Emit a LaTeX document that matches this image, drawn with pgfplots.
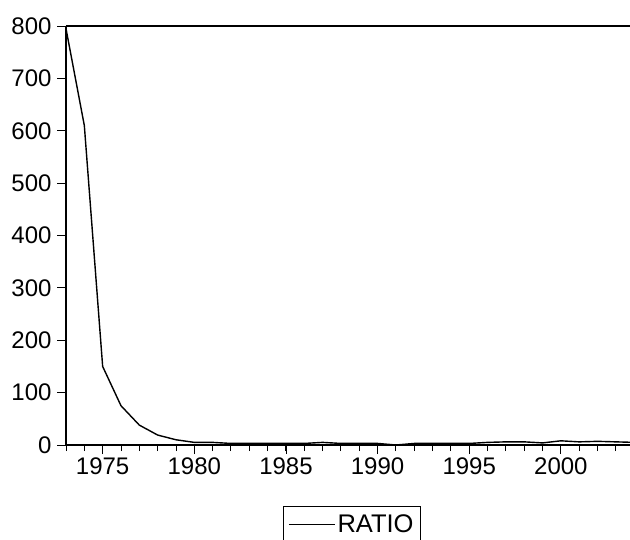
\documentclass[border=0pt]{standalone}
\usepackage{fontspec}
\setmainfont{Liberation Sans}
\usepackage{pgfplots}
\pgfplotsset{compat=1.18}
\begin{document}
\begin{tikzpicture}
\useasboundingbox (-66pt,-94pt) rectangle (564pt,445pt);
\begin{axis}[
    at={(0,0)}, anchor=south west,
    scale only axis,
    width=564pt, height=419pt,
    xmin=1973, xmax=2003.77,
    ymin=0, ymax=800,
    axis x line*=box,
    axis y line*=left,
    axis line style={line width=1.2pt},
    xtick={1975,1980,1985,1990,1995,2000},
    minor xtick={1973,1974,...,2004},
    ytick={0,100,...,800},
    xtick pos=bottom, ytick pos=left,
    tick align=outside,
    major tick length=9pt,
    minor tick length=6pt,
    tick style={line width=0.9pt, black},
    /pgf/number format/1000 sep={},
    /pgf/number format/assume math mode=true,
    tick label style={font=\fontsize{24}{28}\selectfont},
    yticklabel style={xshift=-2pt},
    legend style={at={(axis description cs:0.507,-0.1456)}, anchor=north,
        draw=black, line width=0.9pt, font=\fontsize{25.5}{30}\selectfont,
        inner xsep=5pt, inner ysep=6pt},
    legend image code/.code={\draw[line width=1.2pt] (0pt,0pt) -- (46pt,0pt);},
]
\addplot[black, line width=1.4pt] coordinates {
    (1973,795) (1974,610) (1975,150) (1976,75) (1977,38) (1978,19)
    (1979,10) (1980,5) (1981,5) (1982,3) (1983,3) (1984,3) (1985,3)
    (1986,3) (1987,5) (1988,3) (1989,3) (1990,3) (1991,0) (1992,3)
    (1993,3) (1994,3) (1995,3) (1996,5) (1997,6) (1998,6) (1999,4)
    (2000,8) (2001,6) (2002,7) (2003,6) (2004,5)
};
\addlegendentry{RATIO}
\end{axis}
\end{tikzpicture}
\end{document}
